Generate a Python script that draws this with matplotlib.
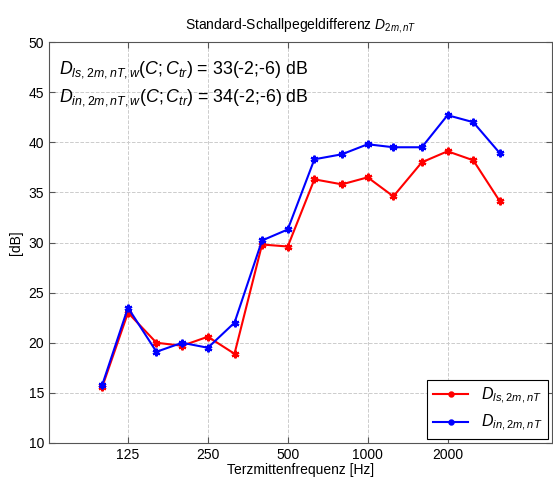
import matplotlib
matplotlib.use("Agg")
import matplotlib.pyplot as plt
import numpy as np

plt.rcParams['font.family'] = ['Liberation Sans', 'DejaVu Sans']
plt.rcParams['mathtext.fontset'] = 'custom'
plt.rcParams['mathtext.rm'] = 'Liberation Sans'
plt.rcParams['mathtext.it'] = 'Liberation Sans:italic'
plt.rcParams['mathtext.bf'] = 'Liberation Sans:bold'

# Terzband-Mittenfrequenzen
freqs = [100, 125, 160, 200, 250, 315, 400, 500, 630, 800, 1000, 1250, 1600, 2000, 2500, 3150]
d_ls = [15.6, 23.0, 20.0, 19.7, 20.6, 18.9, 29.8, 29.6, 36.3, 35.8, 36.5, 34.6, 38.0, 39.1, 38.2, 34.1]
d_in = [15.8, 23.5, 19.1, 20.0, 19.5, 22.0, 30.2, 31.3, 38.3, 38.8, 39.8, 39.5, 39.5, 42.7, 42.0, 38.9]
xticks = [125, 250, 500, 1000, 2000]
yticks = [10, 15, 20, 25, 30, 35, 40, 45, 50]

fig = plt.figure(figsize=(5.53, 4.84), dpi=100)
ax = fig.add_axes([49 / 553, 41 / 484, 503 / 553, 401 / 484])

ax.plot(freqs, d_ls, color='red', lw=1.5, marker=(6, 2, 0), ms=5.5, mew=1.6,
        label=r'$D_{ls,2m,nT}$')
ax.plot(freqs, d_in, color='blue', lw=1.5, marker=(6, 2, 0), ms=5.5, mew=1.6,
        label=r'$D_{in,2m,nT}$')

ax.set_xscale('log')
ax.set_xlim(63, 4950)
ax.set_ylim(10, 50)
ax.set_xticks(xticks)
ax.set_xticklabels([str(t) for t in xticks])
ax.xaxis.set_minor_locator(matplotlib.ticker.NullLocator())
ax.set_yticks(yticks)
ax.tick_params(direction='in', top=True, right=True, labelsize=10, length=4,
               width=0.8, color='#555555')
for s in ax.spines.values():
    s.set_color('#555555')
ax.grid(True, ls='--', color='#cccccc', lw=0.7)

ax.set_xlabel('Terzmittenfrequenz [Hz]', fontsize=10, labelpad=1)
ax.set_ylabel('[dB]', fontsize=10, labelpad=4)
ax.set_title(r'Standard-Schallpegeldifferenz $D_{2m,nT}$', fontsize=10, pad=9)

ax.text(0.02, 0.932, r'$D_{ls,2m,nT,w}(C;C_{tr})$ = 33(-2;-6) dB', transform=ax.transAxes,
        fontsize=12.8, va='center', ha='left')
ax.text(0.02, 0.862, r'$D_{in,2m,nT,w}(C;C_{tr})$ = 34(-2;-6) dB', transform=ax.transAxes,
        fontsize=12.8, va='center', ha='left')

leg = ax.legend(loc='lower right', fontsize=11.5, fancybox=False, framealpha=1,
                edgecolor='black', borderaxespad=0.25, handlelength=2.2,
                labelspacing=0.45, borderpad=0.35)
leg.get_frame().set_linewidth(0.8)
for h in leg.legend_handles:
    h.set_marker('.')
    h.set_markersize(6)

fig.savefig('out.png', dpi=100)
